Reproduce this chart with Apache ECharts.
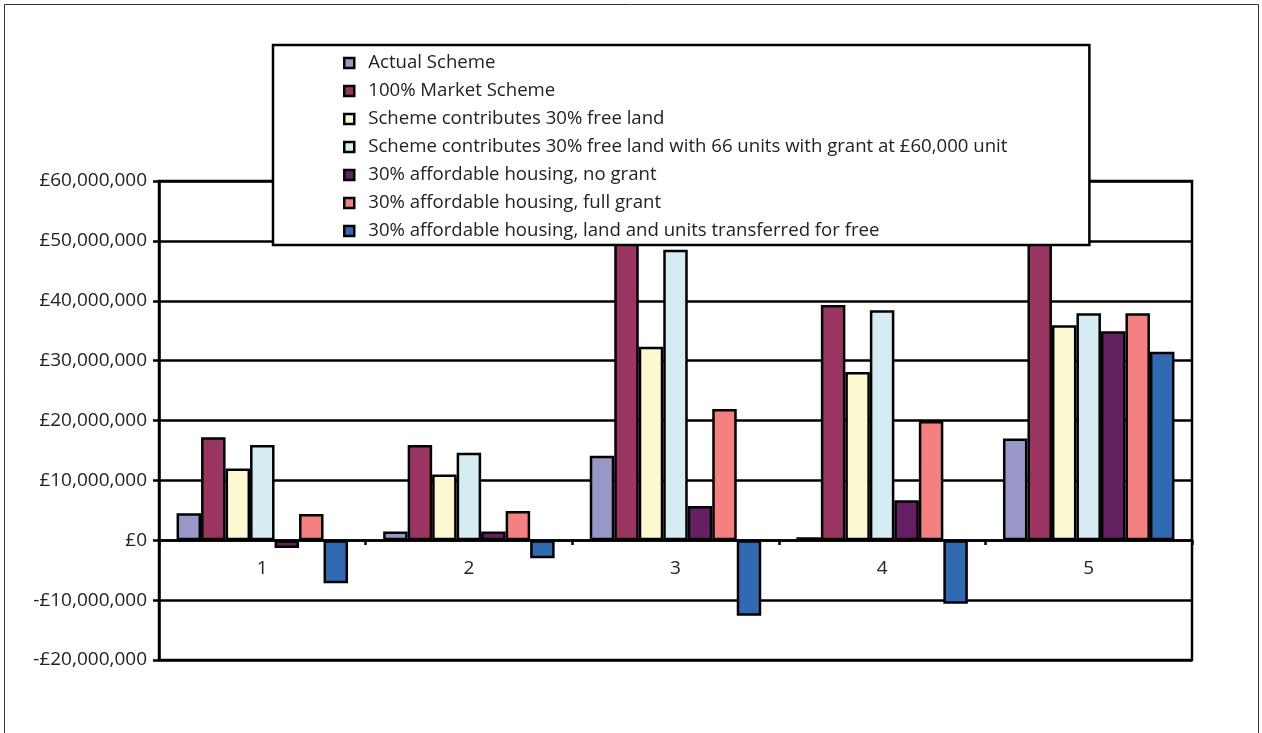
<!DOCTYPE html>
<html>
<head>
<meta charset="utf-8">
<script src="https://cdn.jsdelivr.net/npm/echarts@6/dist/echarts.min.js"></script>
<style>
html,body{margin:0;padding:0;background:#fff;}
#chart{width:1262px;height:733px;}
</style>
</head>
<body>
<div id="chart"></div>
<script>
const categories = ['1', '2', '3', '4', '5'];
const seriesNames = [
  'Actual Scheme',
  '100% Market Scheme',
  'Scheme contributes 30% free land',
  'Scheme contributes 30% free land with 66 units with grant at £60,000 unit',
  '30% affordable housing, no grant',
  '30% affordable housing, full grant',
  '30% affordable housing, land and units transferred for free'
];
const actualScheme = [4500000, 1450000, 14100000, 500000, 17000000];
const marketScheme = [17200000, 15900000, 50000000, 39300000, 52000000];
const freeLand = [12000000, 11000000, 32300000, 28100000, 35900000];
const freeLand66Units = [15900000, 14600000, 48500000, 38400000, 37900000];
const noGrant = [-1300000, 1450000, 5700000, 6700000, 34900000];
const fullGrant = [4400000, 4900000, 21900000, 19900000, 37900000];
const transferredFree = [-7200000, -3000000, -12600000, -10600000, 31500000];
const seriesValues = [actualScheme, marketScheme, freeLand, freeLand66Units, noGrant, fullGrant, transferredFree];
const colors = ['#9898C8', '#9A3562', '#FCF8D0', '#D4ECF2', '#642062', '#F48080', '#2F6AB2'];

function fmt(v) {
  const neg = v < 0;
  const s = Math.abs(v).toString().replace(/\B(?=(\d{3})+(?!\d))/g, ',');
  return (neg ? '-' : '') + '£' + s;
}

const chart = echarts.init(document.getElementById('chart'));
chart.setOption({
  animation: false,
  backgroundColor: '#fff',
  color: colors,
  textStyle: { fontFamily: 'Open Sans' },
  graphic: [{
    type: 'rect',
    shape: { x: 4.5, y: 4.5, width: 1254, height: 740 },
    style: { fill: 'none', stroke: '#333', lineWidth: 1 },
    silent: true
  }],
  grid: {
    left: 159, right: 70, top: 181, bottom: 73,
    show: true, borderColor: '#000', borderWidth: 2.5, backgroundColor: 'transparent'
  },
  legend: {
    data: seriesNames,
    orient: 'vertical',
    left: 273, top: 45,
    padding: [8, 82, 4, 70],
    itemGap: 8,
    itemWidth: 10, itemHeight: 10,
    icon: 'rect',
    backgroundColor: '#fff',
    borderColor: '#000', borderWidth: 2.5,
    itemStyle: { borderColor: '#000', borderWidth: 2.5 },
    textStyle: { fontSize: 18.6, color: '#222', lineHeight: 20, fontFamily: 'Open Sans', padding: [0, 0, 0, 9] },
    z: 10
  },
  xAxis: {
    type: 'category',
    data: categories,
    offset: -120,
    axisLine: { onZero: false, lineStyle: { color: '#000', width: 2.5 } },
    axisTick: { show: true, length: 5, inside: false, lineStyle: { color: '#000', width: 2.5 } },
    axisLabel: { fontSize: 19, color: '#222', margin: 19 },
    splitLine: { show: false }
  },
  yAxis: {
    type: 'value',
    min: -20000000, max: 60000000, interval: 10000000,
    axisLine: { show: true, lineStyle: { color: '#000', width: 2.5 } },
    axisTick: { show: true, length: 6, lineStyle: { color: '#000', width: 2.5 } },
    axisLabel: { fontSize: 19, color: '#222', margin: 12, formatter: fmt },
    splitLine: { show: true, lineStyle: { color: '#000', width: 2.5 } }
  },
  series: seriesNames.map((name, i) => ({
    name: name,
    type: 'bar',
    data: seriesValues[i],
    barGap: '0%',
    barCategoryGap: '17%',
    itemStyle: { color: colors[i], borderColor: '#000', borderWidth: 2.5 }
  }))
});
</script>
</body>
</html>
